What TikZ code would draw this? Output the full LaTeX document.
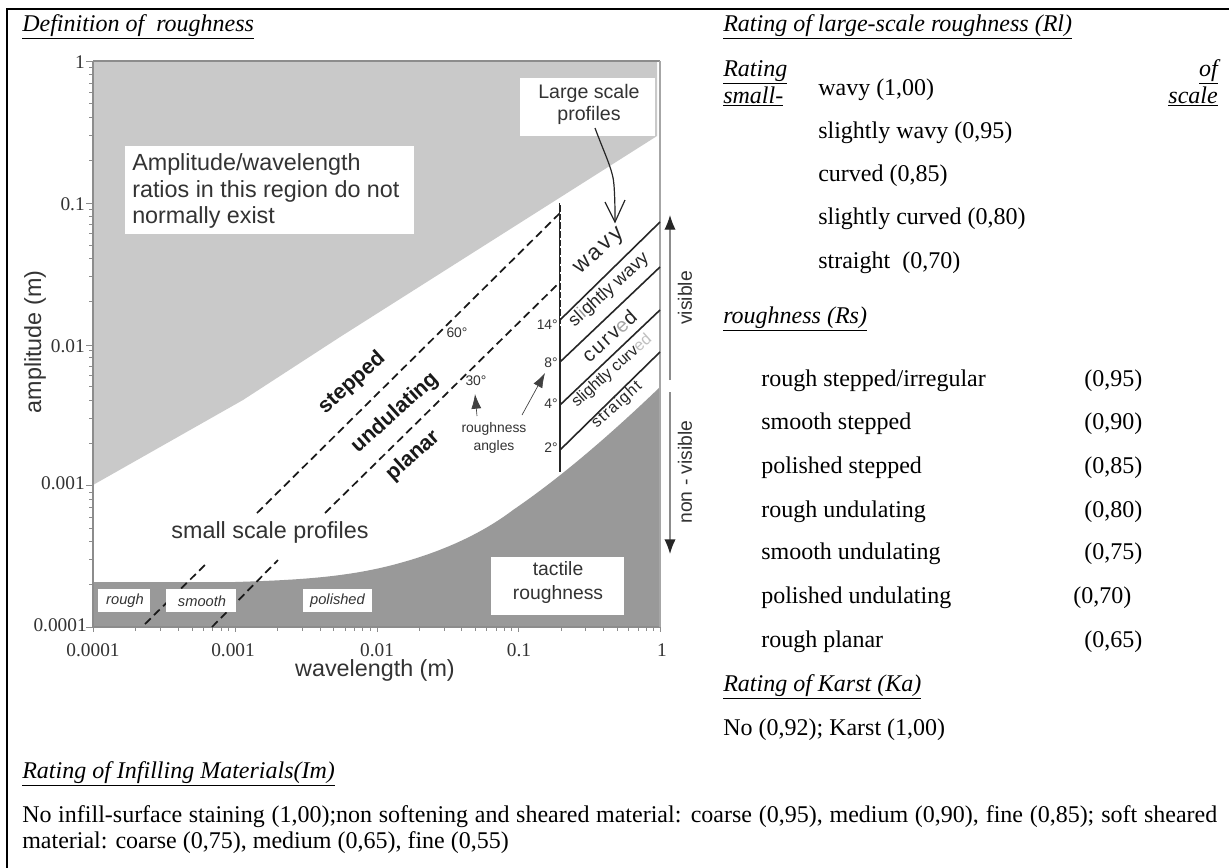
\documentclass[tikz,border=0pt]{standalone}
\usepackage{fontspec}
\setmainfont{Liberation Serif}
\setsansfont{Liberation Sans}
\usetikzlibrary{arrows.meta}
\definecolor{lightreg}{HTML}{C9C9C9}
\definecolor{darkreg}{HTML}{999999}
\definecolor{axisgray}{HTML}{8C8C8C}
\definecolor{labelgray}{HTML}{333333}
\newcommand{\pxfont}[1]{\fontsize{#1}{#1}\selectfont}
\tikzset{
  head/.style={anchor=base west,inner sep=0pt,font=\pxfont{18}\itshape},
  item/.style={anchor=base west,inner sep=0pt,font=\pxfont{18}},
  whitebox/.style={fill=white,inner sep=0pt},
  plotlabel/.style={font=\sffamily\pxfont{17.5},text=labelgray,align=center,inner sep=0pt},
  smalllabel/.style={font=\sffamily\pxfont{10.4},text=labelgray,align=center,inner sep=0pt},
  ticklabel/.style={font=\pxfont{14.5},text=labelgray,inner sep=0pt},
  zonelabel/.style={font=\sffamily\bfseries\pxfont{16},text=black!90,rotate=42,inner sep=0pt},
  profilelabel/.style={font=\sffamily\pxfont{13.5},text=black!85,rotate=42,inner sep=0pt},
  tag/.style={font=\sffamily\itshape\pxfont{11},text=labelgray,inner sep=0pt},
  limit/.style={black!90,line width=1.3pt,dash pattern=on 6pt off 3.5pt},
  bound/.style={black!85,line width=1.2pt},
  minitip/.style={-{Latex[length=11pt,width=7.5pt]},black!75,line width=0.5pt},
}
\begin{document}
\begin{tikzpicture}[x=0.75pt,y=-0.75pt]
\useasboundingbox (0,0) rectangle (1229,868);
\fill[white] (0,0) rectangle (1229,868);
% regions
\fill[lightreg] (93,61) -- (657,61) -- (657,136) -- (340,337) -- (243,400) -- (93,485) -- cycle;
\fill[darkreg] (93,627) -- (93,582) -- (235,582) .. controls (300,580) and (350,577) .. (400,563)
  .. controls (440,552) and (480,535) .. (513,510) .. controls (560,478) and (610,435) .. (660,387) -- (660,627) -- cycle;
% axes
\draw[axisgray,line width=1pt] (93,61) -- (93,627) -- (660,627);
\draw[axisgray,line width=1pt] (93,61) -- (660,61);
\draw[black!35,line width=1pt] (660,61) -- (660,627);
\foreach \d in {0,1,2,3}{
  \foreach \m in {2,...,9}{
    \pgfmathsetmacro{\lx}{93+141.75*(\d+log10(\m))}
    \pgfmathsetmacro{\ly}{627-141.5*(\d+log10(\m))}
    \draw[axisgray,line width=0.6pt] (\lx,627) -- (\lx,631);
    \draw[axisgray,line width=0.6pt] (93,\ly) -- (89,\ly);
  }
}
\foreach \v in {61,203,345,485,627}{\draw[axisgray,line width=0.7pt] (93,\v) -- (86,\v);}
\foreach \v in {93,235,377,518,660}{\draw[axisgray,line width=0.7pt] (\v,627) -- (\v,632);}
% tick labels
\node[ticklabel,anchor=east] (y1) at (85,62) {1};
\node[ticklabel,anchor=east] (y2) at (85,204) {0.1};
\node[ticklabel,anchor=east] (y3) at (85,346) {0.01};
\node[ticklabel,anchor=east] (y4) at (85,483) {0.001};
\node[ticklabel,anchor=east] (y5) at (87,625) {0.0001};
\node[ticklabel] (x1) at (93,650) {0.0001};
\node[ticklabel] (x2) at (233,650) {0.001};
\node[ticklabel] (x3) at (377,650) {0.01};
\node[ticklabel] (x4) at (519,650) {0.1};
\node[ticklabel] (x5) at (662,650) {1};
\node[plotlabel] (xlab) at (375,670) {wavelength (m)};
\node[plotlabel,rotate=90] (ylab) at (35,342) {amplitude (m)};
% white boxes
\node[whitebox,minimum width={289*0.75},minimum height={88*0.75}] (ampbox) at (269.5,190) {};
\node[plotlabel,anchor=west,align=left,font=\fontsize{17.5}{20.2}\selectfont\sffamily] (amptext) at (132,191) {Amplitude/wavelength\\ratios in this region do not\\normally exist};
\node[whitebox,minimum width={135*0.75},minimum height={58*0.75}] (lsbox) at (587.5,107) {};
\node[plotlabel,font=\fontsize{14.7}{16.5}\selectfont\sffamily] (lstext) at (589,104) {Large scale\\profiles};
\node[whitebox,minimum width={133*0.75},minimum height={58*0.75}] (tbox) at (557.5,586) {};
\node[plotlabel,font=\fontsize{14.5}{18}\selectfont\sffamily] (ttext) at (558,582) {tactile\\roughness};
\node[plotlabel] (small) at (270,532) {small scale profiles};
% dashed limits
\coordinate (a1) at (257,513); \coordinate (a2) at (560,213);
\coordinate (a3) at (145,624); \coordinate (a4) at (208,562);
\coordinate (b1) at (325,513); \coordinate (b2) at (560,282);
\coordinate (b3) at (212,627); \coordinate (b4) at (278,560);
\draw[limit] (a1) -- (a2);
\draw[limit] (b1) -- (b2);
\draw[limit] (a3) -- (a4);
\draw[limit] (b3) -- (b4);
\node[whitebox,minimum width={52*0.75},minimum height={23*0.75}] (rough) at (124,600) {};
\node[whitebox,minimum width={70*0.75},minimum height={23*0.75}] (smooth) at (201,600) {};
\node[whitebox,minimum width={69*0.75},minimum height={23*0.75}] (polished) at (337.5,600) {};
\node[tag] (roughT) at (125,601) {rough};
\node[tag] (smoothT) at (202,601) {smooth};
\node[tag] (polishedT) at (337.5,601) {polished};
% vertical boundary and profile lines
\coordinate (v0) at (560,203); \coordinate (v1) at (560,472);
\draw[bound,line width=1.4pt] (v0) -- (v1);
\draw[white,line width=0.5pt,dash pattern=on 1.5pt off 5pt] (v0) -- (560,330);
\coordinate (p14) at (560,320); \coordinate (q14) at (660,222);
\coordinate (p8) at (560,362); \coordinate (q8) at (660,267);
\coordinate (p4) at (560,405); \coordinate (q4) at (660,310);
\coordinate (p2) at (560,450); \coordinate (q2) at (660,352);
\draw[bound] (p14) -- (q14);
\draw[bound] (p8) -- (q8);
\draw[bound] (p4) -- (q4);
\draw[bound] (p2) -- (q2);
% zone labels
\node[zonelabel] (stepped) at (352,383) {stepped};
\node[zonelabel] (undul) at (395,413) {undulating};
\node[zonelabel] (planar) at (413,456) {planar};
\node[profilelabel,font=\sffamily\pxfont{17}\addfontfeature{LetterSpace=12}] (wavy) at (600,252) {wavy};
\node[profilelabel] (swavy) at (609,290) {sl\textcolor{black!40}{i}ghtly wavy};
\node[profilelabel,font=\sffamily\pxfont{15}\addfontfeature{LetterSpace=10}] (curved) at (609,336) {curv\textcolor{black!35}{e}d};
\node[profilelabel,font=\sffamily\pxfont{12}] (scurved) at (612,371) {slightly curv\textcolor{black!25}{ed}};
\node[profilelabel,font=\sffamily\pxfont{12}\addfontfeature{LetterSpace=8}] (straight) at (617,405) {straight};
% angle labels
\node[smalllabel,anchor=center] (a60) at (457,333) {60°};
\node[smalllabel,anchor=center] (a30) at (476,381) {30°};
\node[smalllabel,anchor=east] (a14) at (558,325) {14°};
\node[smalllabel,anchor=east] (a8) at (558,363) {8°};
\node[smalllabel,anchor=east] (a4l) at (558,404) {4°};
\node[smalllabel,anchor=east] (a2l) at (558,448) {2°};
\node[smalllabel,font=\fontsize{10.4}{14}\selectfont\sffamily] (ra) at (494,438) {roughness\\angles};
\coordinate (ra1) at (477,416); \coordinate (ra2) at (475,394);
\coordinate (rt1) at (522,415); \coordinate (rt2) at (545,373);
\draw[minitip] (ra1) -- (ra2);
\draw[minitip] (rt1) -- (rt2);
% large scale arrow
\coordinate (ls1) at (595,128); \coordinate (ls2) at (615,222);
\draw[black!85,line width=0.9pt] (ls1) .. controls (605,155) and (613,170) .. (614,185) .. controls (615,200) and (615,210) .. (ls2);
\draw[black!85,line width=0.9pt] (605,202) -- (ls2) -- (625,200);
% visible arrows
\coordinate (va0) at (670,380); \coordinate (va1) at (670,215);
\coordinate (nv0) at (670,392); \coordinate (nv1) at (670,554);
\draw[axisgray,line width=1pt,-{Latex[length=11pt,width=8.5pt,black!85]}] (va0) -- (va1);
\draw[axisgray,line width=1pt,-{Latex[length=11pt,width=8.5pt,black!85]}] (nv0) -- (nv1);
\node[plotlabel,font=\sffamily\pxfont{14.5},rotate=90] (vis) at (685,298) {visible};
\node[plotlabel,font=\sffamily\pxfont{14.5},rotate=90] (nvis) at (685,472) {non - visible};
% table border
\draw[black,line width=1.6pt] (7,868) -- (7,9) -- (1229,9);
% right column and table text
\node[head] (h1) at (22,31) {\underline{Definition of\ \ roughness}};
\node[head] (h2) at (723,31) {\underline{Rating of large-scale roughness (Rl)}};
\node[head] (h3a) at (723,76) {\underline{Rating}};
\node[head] (h3b) at (723,103) {\underline{small-}};
\node[head,anchor=base east] (h3c) at (1218,76) {\underline{of}};
\node[head,anchor=base east] (h3d) at (1218,103) {\underline{scale}};
\node[head] (h4) at (723,323) {\underline{roughness (Rs)}};
\node[item] (l1) at (818,95) {wavy (1,00)};
\node[item] (l2) at (818,138) {slightly wavy (0,95)};
\node[item] (l3) at (818,181) {curved (0,85)};
\node[item] (l4) at (818,224) {slightly curved (0,80)};
\node[item] (l5) at (818,268) {straight\ \ (0,70)};
\node[item] (s1) at (761,386) {rough stepped/irregular};
\node[item] (s2) at (761,429) {smooth stepped};
\node[item] (s3) at (761,473) {polished stepped};
\node[item] (s4) at (761,517) {rough undulating};
\node[item] (s5) at (761,559) {smooth undulating};
\node[item] (s6) at (761,603) {polished undulating};
\node[item] (s7) at (761,647) {rough planar};
\node[item] (v1t) at (1084,386) {(0,95)};
\node[item] (v2t) at (1084,429) {(0,90)};
\node[item] (v3t) at (1084,473) {(0,85)};
\node[item] (v4t) at (1084,517) {(0,80)};
\node[item] (v5t) at (1084,559) {(0,75)};
\node[item] (v6t) at (1073,603) {(0,70)};
\node[item] (v7t) at (1084,647) {(0,65)};
\node[head] (h5) at (723,691) {\underline{Rating of Karst (Ka)}};
\node[item] (k) at (723,735) {No (0,92); Karst (1,00)};
\node[head] (h6) at (22,778) {\underline{Rating of Infilling Materials(Im)}};
\node[anchor=base west,inner sep=0pt,text width=896.25pt,align=justify,font=\fontsize{18}{19.5}\selectfont] (infill) at (22,822)
 {No infill-surface staining (1,00);non softening and sheared material: coarse (0,95), medium (0,90), fine (0,85); soft sheared\linebreak material: coarse (0,75), medium (0,65), fine (0,55)};
\end{tikzpicture}
\end{document}
